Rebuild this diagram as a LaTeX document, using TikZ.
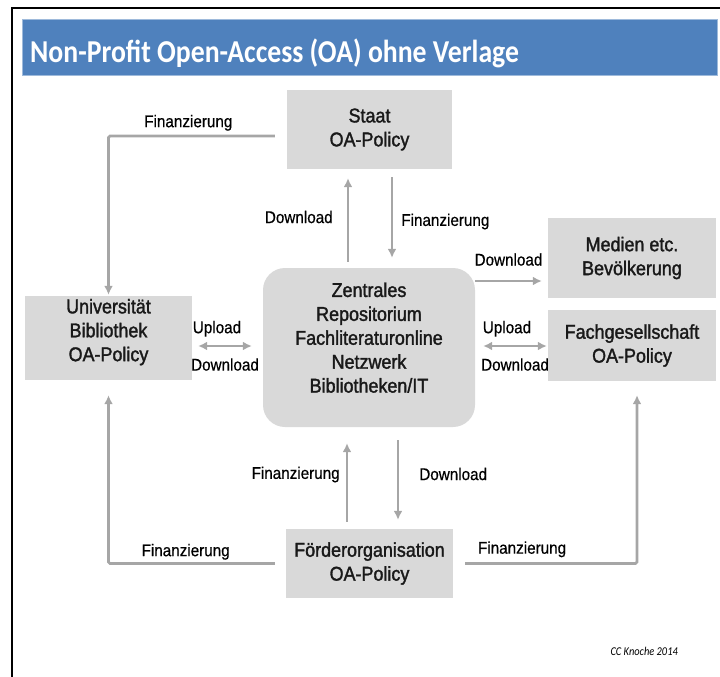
\documentclass[tikz,border=0pt]{standalone}
\usepackage{fontspec}
\setmainfont{Liberation Sans}[FakeStretch=0.9, FakeBold=0.5]
\newfontfamily\boxfont{Liberation Sans}[FakeStretch=0.9, FakeBold=1.6]
\newfontfamily\titlefont{Carlito}[FakeStretch=0.87]
\usetikzlibrary{arrows.meta}
\definecolor{oablue}{HTML}{4F81BD}
\definecolor{boxgray}{HTML}{D9D9D9}
\definecolor{linegray}{HTML}{A6A6A6}
\tikzset{
  orgbox/.style = {shape=rectangle, fill=boxgray, align=center, inner sep=0pt,
                   font=\boxfont\fontsize{20}{24}\selectfont, text=black!90},
  hub/.style    = {orgbox, rounded corners=22bp},
  flow/.style   = {draw=linegray, line width=2.6bp, rounded corners=1.5bp,
                   -{Latex[length=9bp,width=9bp]}},
  both/.style   = {flow, {Latex[length=9bp,width=9bp]}-{Latex[length=9bp,width=9bp]}},
  lbl/.style    = {font=\fontsize{17}{20}\selectfont, text=black, inner sep=0pt}
}

\begin{document}
\begin{tikzpicture}[x=1bp, y=-1bp]
  \useasboundingbox (0,0) rectangle (720,677);
  \draw[line width=2bp] (12,677) -- (12,8) -- (720,8);
  \draw[fill=oablue, draw=oablue!55] (22,19) rectangle (717,75);
  \node[anchor=base west, inner sep=0pt, text=white,
        font=\titlefont\bfseries\fontsize{32}{38}\selectfont] (title) at (30,63)
        {Non-Profit Open-Access (OA) ohne Verlage};

  \node[orgbox, minimum width=165bp, minimum height=79bp] (staat) at (369.5,129.5) {Staat\\OA-Policy};
  \node[hub, minimum width=212bp, minimum height=159bp] (repo) at (369,347.5)
       {Zentrales\\Repositorium\\Fachliteraturonline\\Netzwerk\\Bibliotheken/IT\\[-4bp]\mbox{}};
  \node[orgbox, minimum width=167bp, minimum height=84bp] (uni) at (108.5,338)
       {Universität\\Bibliothek\\OA-Policy\\[-8bp]\mbox{}};
  \node[orgbox, minimum width=168bp, minimum height=80bp] (medien) at (632,258) {Medien etc.\\Bevölkerung};
  \node[orgbox, minimum width=168bp, minimum height=71bp] (fach) at (632,345.5) {Fachgesellschaft\\OA-Policy};
  \node[orgbox, minimum width=167bp, minimum height=69bp] (foerder) at (369.5,563.5) {Förderorganisation\\OA-Policy};

  \draw[flow] ([xshift=-12bp, yshift=-6.5bp]staat.west) -| ([yshift=1bp]uni.north)
        node[pos=0.26, above=4bp, lbl] {Finanzierung};
  \draw[flow] ([xshift=-21bp, yshift=6bp]repo.north) -- ([xshift=-21bp, yshift=-9bp]repo.north |- staat.south)
        node[midway, left=14bp, yshift=3bp, lbl] {Download};
  \draw[flow] ([xshift=22.5bp, yshift=-8bp]staat.south) -- ([xshift=22.5bp, yshift=10bp]staat.south |- repo.north)
        node[midway, right=8bp, yshift=-4bp, lbl] {Finanzierung};
  \draw[flow] ([yshift=66.5bp]repo.east) -- ([xshift=-6bp, yshift=66.5bp]repo.east -| medien.west)
        node[midway, above=14bp, lbl] {Download};
  \draw[both] ([xshift=8bp, yshift=1.5bp]repo.east) -- ([xshift=-1bp, yshift=1.5bp]repo.east -| fach.west)
        node[midway, above=8bp, xshift=-8bp, lbl] {Upload}
        node[midway, below=11bp, lbl] {Download};
  \draw[both] ([xshift=6bp, yshift=-8bp]uni.east) -- ([xshift=-11bp, yshift=-8bp]uni.east -| repo.west)
        node[midway, above=8bp, xshift=-8bp, lbl] {Upload}
        node[midway, below=11bp, lbl] {Download};
  \draw[flow] ([xshift=-22.5bp, yshift=7bp]foerder.north) -- ([xshift=-22.5bp, yshift=-16bp]foerder.north |- repo.south)
        node[midway, left=6bp, yshift=8bp, lbl] {Finanzierung};
  \draw[flow] ([xshift=29bp, yshift=-13bp]repo.south) -- ([xshift=29bp, yshift=9bp]repo.south |- foerder.north)
        node[midway, right=20bp, yshift=6bp, lbl] {Download};
  \draw[flow] ([xshift=-11bp]foerder.west) -| ([yshift=-15bp]uni.south)
        node[pos=0.25, above=2.5bp, xshift=-6bp, lbl] {Finanzierung};
  \draw[flow] ([xshift=12bp]foerder.east) -| ([xshift=5bp, yshift=-14bp]fach.south)
        node[pos=0.25, above=5bp, xshift=-29bp, lbl] {Finanzierung};

  \node[anchor=base east, inner sep=0pt, font=\titlefont\itshape\fontsize{12}{14}\selectfont] (credit) at (678,655)
       {CC Knoche 2014};
\end{tikzpicture}
\end{document}
